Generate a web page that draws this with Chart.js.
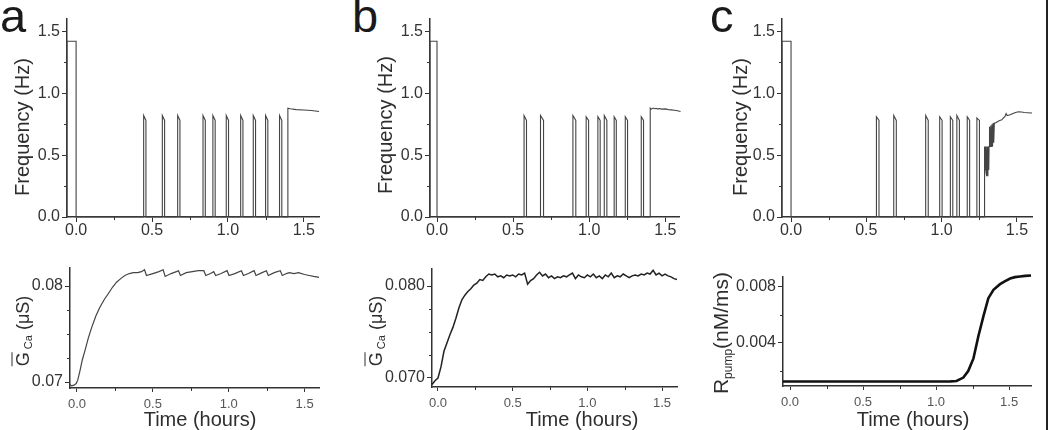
<!DOCTYPE html>
<html><head><meta charset="utf-8">
<script src="https://cdn.jsdelivr.net/npm/chart.js@4.4.1/dist/chart.umd.min.js"></script>
<style>
 html,body{margin:0;padding:0;background:#fff;}
 body{width:1050px;height:430px;position:relative;overflow:hidden;font-family:'Liberation Sans',Arial,Helvetica,sans-serif;color:#333;}
 .cv{position:absolute;}
 .t{position:absolute;white-space:nowrap;z-index:5;color:#2e2e2e;}
 .rot{transform:translate(-50%,-50%) rotate(-90deg);}
 .ctr{transform:translateX(-50%);}
</style></head><body>
<div class="t" style="left:0px;top:-7px;font-size:47px;line-height:46px;color:#1a1a1a">a</div>
<div class="t" style="left:352px;top:-7px;font-size:47px;line-height:46px;color:#1a1a1a">b</div>
<div class="t" style="left:710px;top:-7px;font-size:47px;line-height:46px;color:#1a1a1a">c</div>

<div class="t rot" style="left:22px;top:127px;font-size:20px;line-height:20px">Frequency (Hz)</div>
<div class="t rot" style="left:385px;top:125px;font-size:20px;line-height:20px">Frequency (Hz)</div>
<div class="t rot" style="left:740px;top:127px;font-size:20px;line-height:20px">Frequency (Hz)</div>

<div class="t rot" style="left:25px;top:331px;font-size:18px;line-height:18px"><span style="text-decoration:overline">G</span><span style="font-size:11px;vertical-align:-3px">&nbsp;Ca</span> (μS)</div>
<div class="t rot" style="left:378px;top:331px;font-size:18px;line-height:18px"><span style="text-decoration:overline">G</span><span style="font-size:11px;vertical-align:-3px">&nbsp;Ca</span> (μS)</div>
<div class="t rot" style="left:724px;top:333px;font-size:21px;line-height:21px">R<span style="font-size:12px;vertical-align:-4px">pump</span>(nM/ms)</div>

<div class="t ctr" style="left:200px;top:409px;font-size:20px;line-height:20px">Time (hours)</div>
<div class="t ctr" style="left:582px;top:409px;font-size:20px;line-height:20px">Time (hours)</div>
<div class="t ctr" style="left:913px;top:409px;font-size:20px;line-height:20px">Time (hours)</div>

<div style="position:absolute;left:1046px;top:0;width:2px;height:430px;background:#222"></div>

<script>
// ================= DATA =================
// tick values / labels
const xTickVals = [0, 0.5, 1.0, 1.5];
const xTickLabels = ['0.0', '0.5', '1.0', '1.5'];
const xMinorVals = [0.25, 0.75, 1.25];
const freqTickVals = [0, 0.5, 1.0, 1.5];
const freqTickLabels = ['0.0', '0.5', '1.0', '1.5'];
const freqMinorVals = [0.25, 0.75, 1.25];
const gTickVals = [0.07, 0.08];
const gTickLabelsA = ['0.07', '0.08'];
const gTickLabelsB = ['0.070', '0.080'];
const gMinorVals = [0.0725, 0.075, 0.0775];
const rTickVals = [0.004, 0.008];
const rTickLabels = ['0.004', '0.008'];
const rMinorVals = [0.002, 0.006];

// ---- panel a, frequency (hours, Hz) ----
const aInitX = [-0.06, -0.06, 0.0, 0.0];
const aInitY = [0, 1.42, 1.42, 0];
const aBurstOn   = [0.445, 0.568, 0.669, 0.836, 0.901, 0.989, 1.084, 1.167, 1.248, 1.340];
const aBurstOff  = [0.460, 0.583, 0.684, 0.851, 0.916, 1.004, 1.099, 1.182, 1.263, 1.355];
const aBurstPeak = [0.82, 0.82, 0.82, 0.82, 0.82, 0.82, 0.82, 0.82, 0.82, 0.82];
const aBurstEnd  = [0.78, 0.78, 0.78, 0.78, 0.78, 0.78, 0.78, 0.78, 0.78, 0.78];
const aTailX = [1.395, 1.395, 1.41, 1.45, 1.50, 1.55, 1.60];
const aTailY = [0, 0.88, 0.875, 0.868, 0.865, 0.86, 0.853];

// ---- panel b, frequency ----
const bInitX = [-0.046, -0.046, 0.0, 0.0];
const bInitY = [0, 1.42, 1.42, 0];
const bBurstOn   = [0.572, 0.680, 0.893, 0.980, 1.057, 1.099, 1.164, 1.237, 1.342];
const bBurstOff  = [0.588, 0.700, 0.912, 0.996, 1.072, 1.116, 1.178, 1.252, 1.357];
const bBurstPeak = [0.82, 0.82, 0.82, 0.81, 0.81, 0.82, 0.81, 0.81, 0.81];
const bBurstEnd  = [0.78, 0.78, 0.78, 0.78, 0.78, 0.78, 0.78, 0.78, 0.78];
const bTailX = [1.401, 1.401, 1.41, 1.42, 1.43, 1.44, 1.45, 1.46, 1.48, 1.50, 1.52, 1.54, 1.56, 1.58, 1.60];
const bTailY = [0, 0.88, 0.872, 0.88, 0.875, 0.878, 0.872, 0.876, 0.872, 0.874, 0.868, 0.866, 0.862, 0.858, 0.853];

// ---- panel c, frequency ----
const cInitX = [-0.06, -0.06, 0.0, 0.0];
const cInitY = [0, 1.42, 1.42, 0];
const cBurstOn   = [0.567, 0.682, 0.894, 0.987, 1.058, 1.101, 1.170, 1.234];
const cBurstOff  = [0.584, 0.699, 0.911, 1.003, 1.074, 1.118, 1.186, 1.251];
const cBurstPeak = [0.81, 0.82, 0.82, 0.81, 0.81, 0.82, 0.81, 0.80];
const cBurstEnd  = [0.78, 0.78, 0.78, 0.78, 0.78, 0.78, 0.78, 0.78];
const cTailX = [1.285, 1.285, 1.289, 1.291, 1.295, 1.297, 1.301, 1.303, 1.307, 1.309, 1.313, 1.315, 1.318, 1.318, 1.322, 1.326, 1.330, 1.334, 1.338, 1.342, 1.346, 1.350, 1.358, 1.37, 1.385, 1.40, 1.41, 1.42, 1.428, 1.435, 1.45, 1.47, 1.49, 1.51, 1.53, 1.55, 1.57, 1.60];
const cTailY = [0, 0.57, 0.38, 0.57, 0.36, 0.57, 0.33, 0.57, 0.33, 0.57, 0.38, 0.57, 0.57, 0.73, 0.57, 0.74, 0.57, 0.75, 0.57, 0.76, 0.60, 0.76, 0.76, 0.77, 0.78, 0.785, 0.80, 0.81, 0.836, 0.82, 0.825, 0.835, 0.845, 0.85, 0.848, 0.845, 0.843, 0.84];

// ---- panel a, G_Ca (hours, uS) ----
const aGX = [-0.046, -0.035, -0.020, -0.005, 0.005, 0.020, 0.035, 0.053, 0.075, 0.097, 0.125, 0.151, 0.180, 0.206, 0.235, 0.261, 0.290, 0.316, 0.345, 0.371, 0.40, 0.425, 0.445, 0.458, 0.50, 0.54, 0.568, 0.581, 0.62, 0.655, 0.669, 0.682, 0.72, 0.76, 0.80, 0.836, 0.849, 0.880, 0.901, 0.914, 0.950, 0.989, 1.002, 1.04, 1.084, 1.097, 1.13, 1.167, 1.180, 1.22, 1.248, 1.261, 1.30, 1.340, 1.353, 1.38, 1.40, 1.43, 1.46, 1.50, 1.53, 1.56, 1.595];
const aGY = [0.06975, 0.06960, 0.06968, 0.06985, 0.0702, 0.0712, 0.0723, 0.0733, 0.0746, 0.0757, 0.0769, 0.0778, 0.0786, 0.0792, 0.0799, 0.0804, 0.0808, 0.0811, 0.0813, 0.0814, 0.0814, 0.0815, 0.0817, 0.0811, 0.0813, 0.0815, 0.0817, 0.0810, 0.0813, 0.0815, 0.0816, 0.0811, 0.0814, 0.0815, 0.0816, 0.0816, 0.0811, 0.0813, 0.0815, 0.0811, 0.0813, 0.0816, 0.0811, 0.0813, 0.0816, 0.0811, 0.0813, 0.0816, 0.0811, 0.0814, 0.0816, 0.0811, 0.0814, 0.0816, 0.0811, 0.0813, 0.0814, 0.0813, 0.0814, 0.0812, 0.0811, 0.0810, 0.0809];

// ---- panel b, G_Ca ----
const bGX = [-0.04, -0.02, 0.00, 0.02, 0.04, 0.06, 0.08, 0.10, 0.12, 0.14, 0.16, 0.18, 0.20, 0.22, 0.24, 0.26, 0.28, 0.30, 0.32, 0.34, 0.36, 0.38, 0.40, 0.42, 0.44, 0.46, 0.48, 0.50, 0.52, 0.54, 0.56, 0.58, 0.60, 0.62, 0.64, 0.66, 0.68, 0.70, 0.72, 0.74, 0.76, 0.78, 0.80, 0.82, 0.84, 0.86, 0.88, 0.90, 0.92, 0.94, 0.96, 0.98, 1.00, 1.02, 1.04, 1.06, 1.08, 1.10, 1.12, 1.14, 1.16, 1.18, 1.20, 1.22, 1.24, 1.26, 1.28, 1.30, 1.32, 1.34, 1.36, 1.38, 1.40, 1.42, 1.44, 1.46, 1.48, 1.50, 1.52, 1.54, 1.56, 1.58, 1.60];
const bGY = [0.0693, 0.0697, 0.0700, 0.0712, 0.0729, 0.0738, 0.0747, 0.0755, 0.0765, 0.0776, 0.0785, 0.0790, 0.0794, 0.0797, 0.0801, 0.0803, 0.0807, 0.0806, 0.0810, 0.0813, 0.0812, 0.0813, 0.0810, 0.0811, 0.0809, 0.0812, 0.0811, 0.0812, 0.0810, 0.0813, 0.0812, 0.0814, 0.0802, 0.0806, 0.0808, 0.0812, 0.0815, 0.0811, 0.0813, 0.0809, 0.0811, 0.0808, 0.0810, 0.0809, 0.0811, 0.0810, 0.0812, 0.0814, 0.0808, 0.0812, 0.0810, 0.0809, 0.0812, 0.0810, 0.0813, 0.0809, 0.0811, 0.0808, 0.0812, 0.0810, 0.0814, 0.0809, 0.0811, 0.0810, 0.0813, 0.0811, 0.0809, 0.0811, 0.0812, 0.0811, 0.0813, 0.0812, 0.0814, 0.0813, 0.0817, 0.0812, 0.0814, 0.0811, 0.0813, 0.0811, 0.0810, 0.0808, 0.0807];

// ---- panel c, R_pump (hours, nM/ms) ----
const cRX = [-0.048, 0.2, 0.5, 0.8, 1.0, 1.10, 1.14, 1.187, 1.22, 1.256, 1.29, 1.324, 1.358, 1.393, 1.438, 1.47, 1.507, 1.54, 1.575, 1.61, 1.65];
const cRY = [0.00125, 0.00125, 0.00125, 0.00125, 0.00125, 0.00126, 0.00129, 0.00153, 0.0020, 0.0029, 0.0045, 0.0059, 0.0072, 0.0078, 0.0082, 0.0084, 0.0086, 0.0087, 0.00875, 0.00879, 0.00882];

// ================= BUILD =================
const FONT = "'Liberation Sans', Arial, Helvetica, sans-serif";

const minorTickPlugin = {
  id: 'minorTicks',
  afterDraw(chart, args, o) {
    const ctx = chart.ctx, xs = chart.scales.x, ys = chart.scales.y, ca = chart.chartArea;
    ctx.save();
    ctx.strokeStyle = '#333'; ctx.lineWidth = 1;
    (o.x || []).forEach(v => {
      const p = Math.round(xs.getPixelForValue(v)) + 0.5;
      ctx.beginPath(); ctx.moveTo(p, ca.bottom); ctx.lineTo(p, ca.bottom + 3); ctx.stroke();
    });
    (o.y || []).forEach(v => {
      const p = Math.round(ys.getPixelForValue(v)) + 0.5;
      ctx.beginPath(); ctx.moveTo(ca.left, p); ctx.lineTo(ca.left - 3, p); ctx.stroke();
    });
    ctx.restore();
  }
};
Chart.register(minorTickPlugin);

function pts(xs, ys) { return xs.map((x, i) => ({x: x, y: ys[i]})); }
function freqPoints(initX, initY, on, off, peak, end, tailX, tailY) {
  const p = pts(initX, initY);
  on.forEach((t, i) => { p.push({x: t, y: 0}, {x: t, y: peak[i]}, {x: off[i], y: end[i]}, {x: off[i], y: 0}); });
  return p.concat(pts(tailX, tailY));
}

function scaleCfg(s, horiz) {
  return {
    type: 'linear', position: horiz ? 'bottom' : 'left', min: s.min, max: s.max,
    afterBuildTicks: sc => { sc.ticks = s.vals.map(v => ({value: v})); },
    afterFit: sc => { if (horiz) sc.height = s.h; else sc.width = s.w; },
    ticks: {autoSkip: false, maxRotation: 0, callback: (v, i) => s.labels[i],
            font: {family: FONT, size: s.fs, lineHeight: 1}, color: s.color, padding: s.pad},
    grid: {drawOnChartArea: false, drawTicks: true, tickLength: s.tl, color: '#333', lineWidth: 1},
    border: {display: true, color: '#333', width: 1.5}
  };
}

function makeChart(area, dataset, xs, ys, minor) {
  const PT = 14, PR = 14;
  const div = document.createElement('div');
  div.className = 'cv';
  div.style.left = (area[0] - ys.w) + 'px';
  div.style.top = (area[1] - PT) + 'px';
  div.style.width = (area[2] - area[0] + ys.w + PR) + 'px';
  div.style.height = (area[3] - area[1] + PT + xs.h) + 'px';
  const c = document.createElement('canvas');
  div.appendChild(c);
  document.body.appendChild(div);
  new Chart(c, {
    type: 'line',
    data: {datasets: [Object.assign({pointRadius: 0, tension: 0, fill: false, clip: false}, dataset)]},
    options: {
      responsive: true, maintainAspectRatio: false, animation: false, events: [],
      layout: {padding: {top: PT, right: PR, left: 0, bottom: 0}},
      plugins: {legend: {display: false}, tooltip: {enabled: false}, minorTicks: minor},
      scales: {x: scaleCfg(xs, true), y: scaleCfg(ys, false)}
    }
  });
}

const topX = (min, max) => ({min, max, vals: xTickVals, labels: xTickLabels, fs: 16, color: '#333', pad: 1, tl: 5, h: 30});
const botX = (min, max) => ({min, max, vals: xTickVals, labels: xTickLabels, fs: 13, color: '#555', pad: 6, tl: 4, h: 30});
const freqY = {min: 0, max: 1.6, vals: freqTickVals, labels: freqTickLabels, fs: 16, color: '#333', pad: 2, tl: 5, w: 50};
const freqMinor = {x: xMinorVals, y: freqMinorVals};

const freqStyle = {borderColor: '#444', borderWidth: 1.1};

makeChart([67, 19, 319, 217],
  Object.assign({data: freqPoints(aInitX, aInitY, aBurstOn, aBurstOff, aBurstPeak, aBurstEnd, aTailX, aTailY)}, freqStyle),
  topX(-0.06, 1.6), freqY, freqMinor);
makeChart([430, 19, 679, 217],
  Object.assign({data: freqPoints(bInitX, bInitY, bBurstOn, bBurstOff, bBurstPeak, bBurstEnd, bTailX, bTailY)}, freqStyle),
  topX(-0.046, 1.59), freqY, freqMinor);
makeChart([782, 19, 1032, 217],
  Object.assign({data: freqPoints(cInitX, cInitY, cBurstOn, cBurstOff, cBurstPeak, cBurstEnd, cTailX, cTailY)}, freqStyle),
  topX(-0.06, 1.6), freqY, freqMinor);

makeChart([70, 268, 319, 388],
  {data: pts(aGX, aGY), borderColor: '#444', borderWidth: 1.2},
  botX(-0.046, 1.595),
  {min: 0.06938, max: 0.08188, vals: gTickVals, labels: gTickLabelsA, fs: 16, color: '#333', pad: 2, tl: 5, w: 55},
  {x: xMinorVals, y: gMinorVals});
makeChart([432, 269, 677, 387],
  {data: pts(bGX, bGY), borderColor: '#222', borderWidth: 1.5},
  botX(-0.04, 1.6),
  {min: 0.06902, max: 0.08185, vals: gTickVals, labels: gTickLabelsB, fs: 16, color: '#333', pad: 2, tl: 5, w: 55},
  {x: xMinorVals, y: gMinorVals});
makeChart([783, 277, 1031, 386],
  {data: pts(cRX, cRY), borderColor: '#111', borderWidth: 2.6},
  botX(-0.048, 1.65),
  {min: 0.00093, max: 0.00871, vals: rTickVals, labels: rTickLabels, fs: 16, color: '#333', pad: 2, tl: 5, w: 55},
  {x: xMinorVals, y: rMinorVals});
</script>
</body></html>
